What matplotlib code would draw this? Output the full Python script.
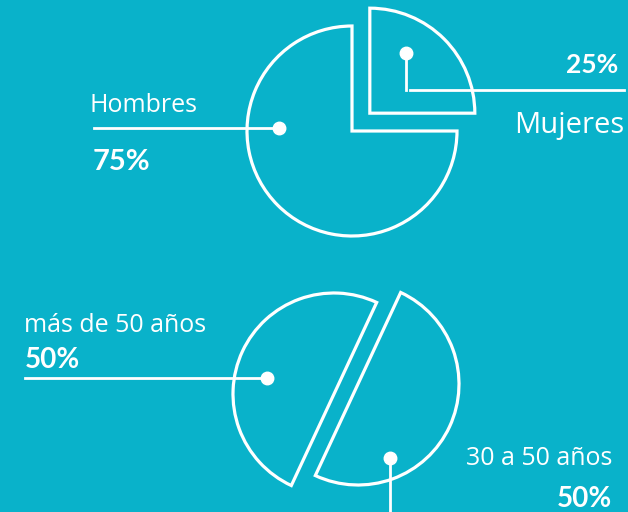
import matplotlib.pyplot as plt

# datos
genero = ['Hombres', 'Mujeres']
genero_pct = [75, 25]
edad = ['más de 50 años', '30 a 50 años']
edad_pct = [50, 50]

bg = '#09b2ca'
plt.rcParams['font.family'] = ['Open Sans', 'DejaVu Sans']
bold = ['Lato', 'DejaVu Sans']

fig = plt.figure(figsize=(6.28, 5.12), dpi=100, facecolor=bg)
ax = fig.add_axes([0, 0, 1, 1])
ax.set_facecolor(bg)

wp = dict(facecolor='none', edgecolor='white', linewidth=2.3, joinstyle='miter')

# pastel de arriba: Mujeres separado (explode va en unidades de datos)
r1 = 105
ax.pie(genero_pct, startangle=90, radius=r1, center=(352, 381),
       explode=[0, 0.24 * r1], wedgeprops=wp)

# pastel de abajo: dos mitades desplazadas
centros = [(334, 118), (358, 128)]
ang = 65
for v, c in zip(edad_pct, centros):
    ax.pie([v / 100], normalize=False, startangle=ang, radius=101, center=c,
           wedgeprops=wp)
    ang += v / 100 * 360

ax.set_xlim(0, 628)
ax.set_ylim(0, 512)
ax.set_aspect('auto')
ax.axis('off')

lw = 2
ms = 9
# Hombres
ax.plot([94, 279], [384, 384], color='white', lw=lw)
ax.plot(279, 384, 'o', color='white', ms=ms)
ax.text(90, 400, genero[0], color='white', fontsize=18)
ax.text(93, 342, f'{genero_pct[0]}%', color='white', fontsize=21, fontweight='bold', family=bold)
# Mujeres
ax.plot(406, 459, 'o', color='white', ms=ms)
ax.plot([406, 406], [459, 422], color='white', lw=lw)
ax.plot([410, 624], [422, 422], color='white', lw=lw)
ax.text(618, 439, f'{genero_pct[1]}%', color='white', fontsize=19, fontweight='bold', ha='right', family=bold)
ax.text(624, 379, genero[1], color='white', fontsize=21, ha='right')
# más de 50
ax.plot([25, 267], [134, 134], color='white', lw=lw)
ax.plot(267, 134, 'o', color='white', ms=ms)
ax.text(24, 180, edad[0], color='white', fontsize=18)
ax.text(25, 144, f'{edad_pct[0]}%', color='white', fontsize=20, fontweight='bold', family=bold)
# 30 a 50
ax.plot(390, 54, 'o', color='white', ms=ms)
ax.plot([390, 390], [54, 0], color='white', lw=lw)
ax.text(612, 47, edad[1], color='white', fontsize=18, ha='right')
ax.text(612, 5, f'{edad_pct[1]}%', color='white', fontsize=20, fontweight='bold', ha='right', family=bold)

fig.savefig('out.png', dpi=100, facecolor=bg)
